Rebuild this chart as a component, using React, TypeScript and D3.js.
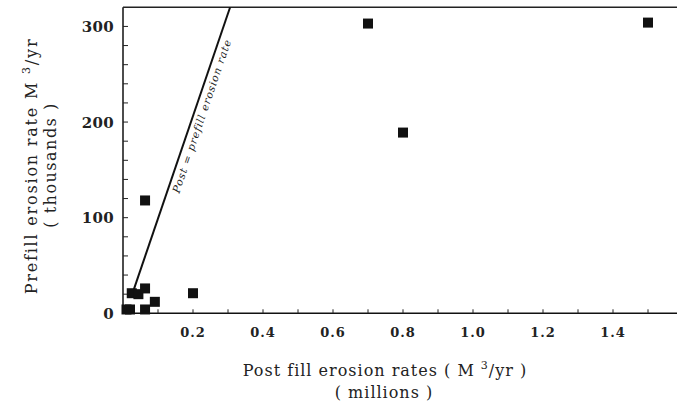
import React from "react";
import * as d3 from "d3";

const postFill = [0.01, 0.02, 0.063, 0.091, 0.025, 0.044, 0.063, 0.063, 0.2, 0.7, 0.8, 1.5];
const prefill = [4, 4, 4, 12, 21, 20, 26, 118, 21, 303, 189, 304];
const lineX = [0.03, 0.306];
const lineY = [24, 320];
const xTickValues = [0.1, 0.2, 0.3, 0.4, 0.5, 0.6, 0.7, 0.8, 0.9, 1.0, 1.1, 1.2, 1.3, 1.4, 1.5];
const xLabelValues = [0.2, 0.4, 0.6, 0.8, 1.0, 1.2, 1.4];
const yTickValues = [20, 40, 60, 80, 100, 120, 140, 160, 180, 200, 220, 240, 260, 280, 300];
const yLabelValues = [0, 100, 200, 300];
const lineLabel = "Post = prefill erosion rate";

const W = 677;
const H = 406;
const FONT = "'DejaVu Serif', 'Liberation Serif', serif";

export default function App() {
  const x = d3.scaleLinear().domain([0, 1.6]).range([123, 123 + 1.6 * 350]);
  const y = d3.scaleLinear().domain([0, 320]).range([313.3, 7.3]);
  const x0 = x(0);
  const y0 = y(0);
  const sq = 10;

  const lp = d3.line<number>()
    .x((_, i) => x(lineX[i]))
    .y((_, i) => y(lineY[i]));
  const lineD = lp(lineX) || "";

  const px1 = x(lineX[0]), py1 = y(lineY[0]);
  const px2 = x(lineX[1]), py2 = y(lineY[1]);
  const ang = (Math.atan2(py2 - py1, px2 - px1) * 180) / Math.PI;
  const len = Math.hypot(px2 - px1, py2 - py1);
  const ux = (px2 - px1) / len, uy = (py2 - py1) / len;
  const nx = -uy, ny = ux;
  const t = 0.355;
  const off = 12;
  const lx = px1 + ux * len * t + nx * off;
  const ly = py1 + uy * len * t + ny * off;

  return (
    <svg width={W} height={H} style={{ position: "absolute", left: 0, top: 0, background: "#fff" }}>
      <rect x={0} y={0} width={W} height={H} fill="#fff" />
      <line x1={x0} y1={y(320)} x2={x0} y2={y0} stroke="#111" strokeWidth={1.5} />
      <line x1={x0} y1={y0} x2={W} y2={y0} stroke="#111" strokeWidth={1.5} />
      <line x1={x0} y1={y(320)} x2={W} y2={y(320)} stroke="#222" strokeWidth={1.5} />
      {xTickValues.map((v) => (
        <line key={"xt" + v} x1={x(v)} x2={x(v)} y1={y0} y2={y0 - 4} stroke="#222" strokeWidth={1} />
      ))}
      {yTickValues.map((v) => (
        <line key={"yt" + v} x1={x0} x2={x0 + 5} y1={y(v)} y2={y(v)} stroke="#222" strokeWidth={1} />
      ))}
      {xLabelValues.map((v) => (
        <text key={"xl" + v} x={x(v)} y={337} textAnchor="middle" fontFamily={FONT} fontWeight="bold" fontSize={13} letterSpacing={1} fill="#222">
          {v.toFixed(1)}
        </text>
      ))}
      {yLabelValues.map((v) => (
        <text key={"yl" + v} x={114} y={y(v) + 5.5} textAnchor="end" fontFamily={FONT} fontWeight="bold" fontSize={15} letterSpacing={0.3} fill="#222">
          {v}
        </text>
      ))}
      <path d={lineD} stroke="#111" strokeWidth={2} fill="none" />
      <text
        x={lx}
        y={ly}
        transform={`rotate(${ang}, ${lx}, ${ly})`}
        fontFamily={FONT}
        fontStyle="italic"
        fontSize={10.5}
        letterSpacing={0.9}
        fill="#222"
      >
        {lineLabel}
      </text>
      {postFill.map((v, i) => (
        <rect key={"p" + i} x={x(v) - sq / 2} y={y(prefill[i]) - sq / 2} width={sq} height={sq} fill="#111" />
      ))}
      <text x={385} y={376} textAnchor="middle" fontFamily={FONT} fontSize={16} letterSpacing={1} fill="#222">
        Post fill erosion rates ( M <tspan dy={-7} fontSize={11}>3</tspan><tspan dy={7}>/yr )</tspan>
      </text>
      <text x={384} y={398} textAnchor="middle" fontFamily={FONT} fontSize={16} letterSpacing={1} fill="#222">
        ( millions )
      </text>
      <g transform="translate(31,166) rotate(-90)">
        <text x={0} y={5.5} textAnchor="middle" fontFamily={FONT} fontSize={16} letterSpacing={1.8} fill="#222">
          Prefill erosion rate M <tspan dy={-7} fontSize={11}>3</tspan><tspan dy={7}>/yr</tspan>
        </text>
      </g>
      <g transform="translate(50,165) rotate(-90)">
        <text x={0} y={5.5} textAnchor="middle" fontFamily={FONT} fontSize={16} letterSpacing={1.5} fill="#222">
          ( thousands )
        </text>
      </g>
    </svg>
  );
}
